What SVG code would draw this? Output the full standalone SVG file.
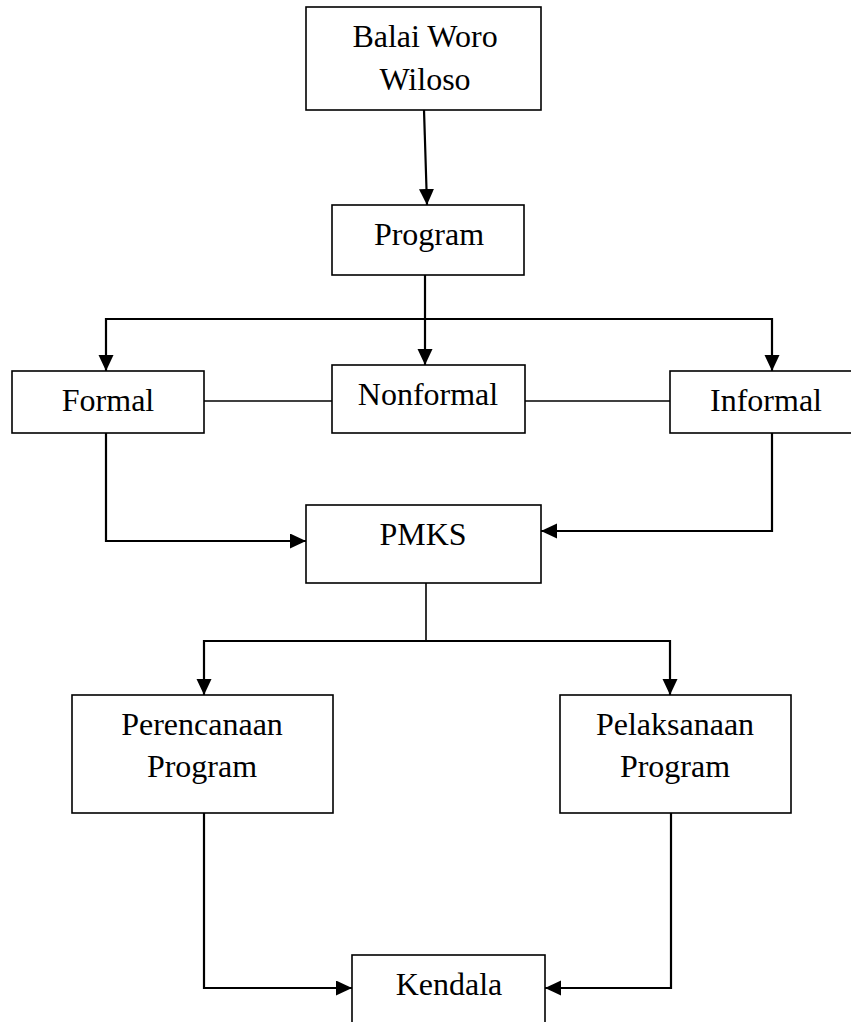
<svg xmlns="http://www.w3.org/2000/svg" width="851" height="1022" viewBox="0 0 851 1022">
<style>
.box{fill:#fff;stroke:#000;stroke-width:1.6}
.lbl{font-family:"Liberation Serif","Times New Roman",serif;font-size:32px;fill:#000;text-anchor:middle}
.arr{fill:none;stroke:#000;stroke-width:2.2;marker-end:url(#ah)}
.ln{fill:none;stroke:#000;stroke-width:1.6}
</style>
<defs>
<marker id="ah" markerUnits="userSpaceOnUse" markerWidth="17" markerHeight="16" refX="16" refY="7.5" orient="auto">
<path d="M0,0 L16,7.5 L0,15 z" fill="#000"/>
</marker>
</defs>
<rect width="851" height="1022" fill="#fff"/>
<g id="connectors">
<path class="arr" d="M424,110 L427,205"/>
<path class="arr" d="M425,275 L425,365"/>
<path class="arr" d="M425,319 L106,319 L106,371"/>
<path class="arr" d="M425,319 L772,319 L772,371"/>
<path class="ln" d="M204,401 L332,401"/>
<path class="ln" d="M525,401 L670,401"/>
<path class="arr" d="M106,433 L106,541 L306,541"/>
<path class="arr" d="M772,433 L772,531 L541,531"/>
<path class="ln" d="M426,583 L426,641"/>
<path class="arr" d="M426,641 L204,641 L204,695"/>
<path class="arr" d="M426,641 L670,641 L670,695"/>
<path class="arr" d="M204,813 L204,988 L352,988"/>
<path class="arr" d="M671,813 L671,988 L545,988"/>
</g>
<g id="balai">
<rect class="box" x="306" y="7" width="235" height="103"/>
<text class="lbl" x="425" y="47">Balai Woro</text>
<text class="lbl" x="425" y="90">Wiloso</text>
</g>
<g id="program">
<rect class="box" x="332" y="205" width="192" height="70"/>
<text class="lbl" x="429" y="245">Program</text>
</g>
<g id="formal">
<rect class="box" x="12" y="371" width="192" height="62"/>
<text class="lbl" x="108" y="411">Formal</text>
</g>
<g id="nonformal">
<rect class="box" x="332" y="365" width="193" height="68"/>
<text class="lbl" x="428" y="405">Nonformal</text>
</g>
<g id="informal">
<rect class="box" x="670" y="371" width="185" height="62"/>
<text class="lbl" x="766" y="411">Informal</text>
</g>
<g id="pmks">
<rect class="box" x="306" y="505" width="235" height="78"/>
<text class="lbl" x="423" y="545">PMKS</text>
</g>
<g id="perencanaan">
<rect class="box" x="72" y="695" width="261" height="118"/>
<text class="lbl" x="202" y="735">Perencanaan</text>
<text class="lbl" x="202" y="777">Program</text>
</g>
<g id="pelaksanaan">
<rect class="box" x="560" y="695" width="231" height="118"/>
<text class="lbl" x="675" y="735">Pelaksanaan</text>
<text class="lbl" x="675" y="777">Program</text>
</g>
<g id="kendala">
<rect class="box" x="352" y="955" width="193" height="80"/>
<text class="lbl" x="449" y="995">Kendala</text>
</g>
</svg>
